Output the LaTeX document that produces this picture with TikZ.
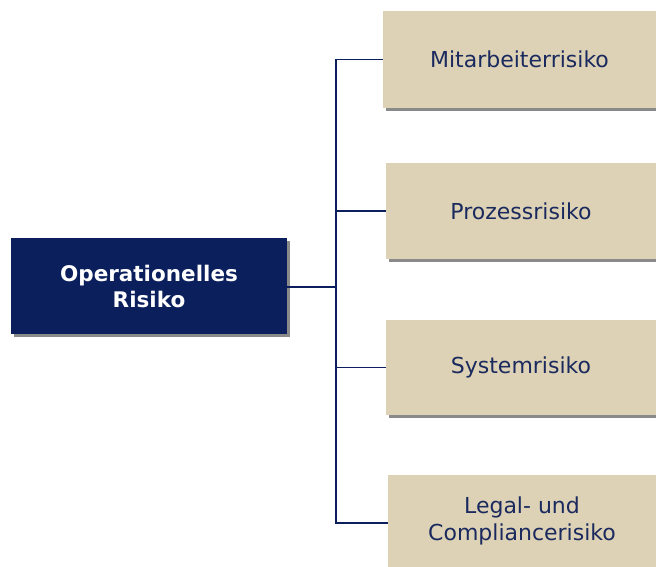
\documentclass[tikz,border=0pt]{standalone}
\usepackage{fontspec}
\setmainfont{DejaVu Sans}
\definecolor{navy}{HTML}{0B1F5C}
\definecolor{beige}{HTML}{DDD2B5}
\definecolor{txtnavy}{HTML}{1B2A5E}
\definecolor{shad}{HTML}{8A8A8A}
\begin{document}
\begin{tikzpicture}[x=1pt,y=-1pt,
  mainbox/.style={fill=navy,text=white,font=\fontsize{21.5}{26}\selectfont\bfseries,align=center,inner sep=0pt},
  riskbox/.style={fill=beige,text=txtnavy,font=\fontsize{22}{27}\selectfont,align=center,inner sep=0pt},
  conn/.style={draw=navy,line width=1.5pt}]
\useasboundingbox (0,0) rectangle (656,567);
% shadows
\fill[shad] (14,241) rectangle (290,337);
\fill[shad] (386,14) rectangle (659,111);
\fill[shad] (389,166) rectangle (659,262);
\fill[shad] (389,323) rectangle (659,418);
% boxes
\node[mainbox,minimum width=276pt,minimum height=96pt] (op) at (149,286) {Operationelles\\Risiko};
\node[riskbox,minimum width=273pt,minimum height=97pt] (b1) at (519.5,59.5) {Mitarbeiterrisiko};
\node[riskbox,minimum width=270pt,minimum height=96pt] (b2) at (521,211) {Prozessrisiko};
\node[riskbox,minimum width=270pt,minimum height=95pt] (b3) at (521,367.5) {Systemrisiko};
\node[riskbox,minimum width=268pt,minimum height=92pt] (b4) at (522,521) {Legal- und\\Compliancerisiko};
\coordinate (j) at (336,287);
\draw[conn] (op.east |- j) -- (j);
\draw[conn] (j) |- (b1.west);
\draw[conn] (j) |- (b2.west);
\draw[conn] (j) |- (b3.west);
\draw[conn] (j) |- ([yshift=-2pt]b4.west);
\end{tikzpicture}
\end{document}
